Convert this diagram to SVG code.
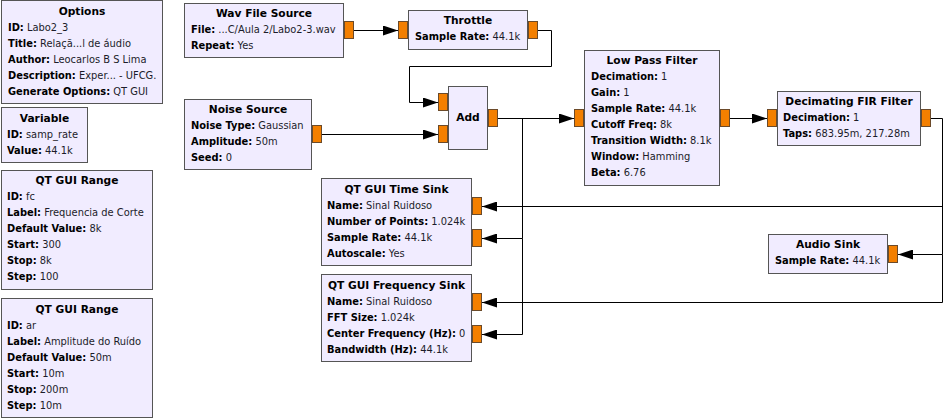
<svg xmlns="http://www.w3.org/2000/svg" width="943" height="419" viewBox="0 0 943 419">
<style>
.bg{fill:#ffffff}
.blk{fill:#F1ECFF;stroke:#555555;stroke-width:1}
.port{fill:#F37F00;stroke:#6b4a2a;stroke-width:1}
.t{font-family:"DejaVu Sans","Liberation Sans",sans-serif;font-size:10.67px;font-weight:bold;fill:#000;text-anchor:middle}
.p{font-family:"DejaVu Sans","Liberation Sans",sans-serif;font-size:9.9px;fill:#1c1c2a}
.k{font-weight:bold;fill:#000}
.c{fill:none;stroke:#000;stroke-width:1}
</style>
<defs>
<marker id="arr" markerWidth="15" markerHeight="10" refX="15" refY="5" orient="auto" markerUnits="userSpaceOnUse">
<path d="M0,0 L15,5 L0,10 z" fill="#000"/>
</marker>
</defs>
<rect class="bg" x="0" y="0" width="943" height="419"/>

<g id="connectors">
<path class="c" d="M354,30.5 H398" marker-end="url(#arr)"/>
<path class="c" d="M538,30.5 H551.5 V66.5 H409.5 V102.5 H438" marker-end="url(#arr)"/>
<path class="c" d="M322,134.5 H438" marker-end="url(#arr)"/>
<path class="c" d="M498,118.5 H574" marker-end="url(#arr)"/>
<path class="c" d="M498,118.5 H522.5 V238.5 H482" marker-end="url(#arr)"/>
<path class="c" d="M522.5,238.5 V334.5 H482" marker-end="url(#arr)"/>
<path class="c" d="M730,118.5 H767" marker-end="url(#arr)"/>
<path class="c" d="M931,118.5 H942.5 V254.5 H898" marker-end="url(#arr)"/>
<path class="c" d="M942.5,206.5 H482" marker-end="url(#arr)"/>
<path class="c" d="M942.5,254.5 V302.5 H482" marker-end="url(#arr)"/>
</g>

<g id="options">
<rect class="blk" x="1.5" y="0.5" width="161" height="103"/>
<text class="t" x="82" y="15">Options</text>
<text class="p" x="8" y="31"><tspan class="k">ID:</tspan> Labo2_3</text>
<text class="p" x="8" y="47"><tspan class="k">Title:</tspan> Relaçã...l de áudio</text>
<text class="p" x="8" y="63"><tspan class="k">Author:</tspan> Leocarlos B S Lima</text>
<text class="p" x="8" y="79"><tspan class="k">Description:</tspan> Exper... - UFCG.</text>
<text class="p" x="8" y="95"><tspan class="k">Generate Options:</tspan> QT GUI</text>
</g>

<g id="variable">
<rect class="blk" x="1.5" y="107.5" width="86" height="55"/>
<text class="t" x="44.5" y="122">Variable</text>
<text class="p" x="7" y="138"><tspan class="k">ID:</tspan> samp_rate</text>
<text class="p" x="7" y="154"><tspan class="k">Value:</tspan> 44.1k</text>
</g>

<g id="range_fc">
<rect class="blk" x="1.5" y="170.5" width="151" height="119"/>
<text class="t" x="77" y="184">QT GUI Range</text>
<text class="p" x="7" y="200"><tspan class="k">ID:</tspan> fc</text>
<text class="p" x="7" y="216"><tspan class="k">Label:</tspan> Frequencia de Corte</text>
<text class="p" x="7" y="232"><tspan class="k">Default Value:</tspan> 8k</text>
<text class="p" x="7" y="248"><tspan class="k">Start:</tspan> 300</text>
<text class="p" x="7" y="264"><tspan class="k">Stop:</tspan> 8k</text>
<text class="p" x="7" y="280"><tspan class="k">Step:</tspan> 100</text>
</g>

<g id="range_ar">
<rect class="blk" x="1.5" y="298.5" width="151" height="119"/>
<text class="t" x="77" y="313">QT GUI Range</text>
<text class="p" x="7" y="329"><tspan class="k">ID:</tspan> ar</text>
<text class="p" x="7" y="345"><tspan class="k">Label:</tspan> Amplitude do Ruído</text>
<text class="p" x="7" y="361"><tspan class="k">Default Value:</tspan> 50m</text>
<text class="p" x="7" y="377"><tspan class="k">Start:</tspan> 10m</text>
<text class="p" x="7" y="393"><tspan class="k">Stop:</tspan> 200m</text>
<text class="p" x="7" y="409"><tspan class="k">Step:</tspan> 10m</text>
</g>

<g id="wav_source">
<rect class="blk" x="184.5" y="3.5" width="159" height="54"/>
<text class="t" x="264" y="17">Wav File Source</text>
<text class="p" x="191" y="33"><tspan class="k">File:</tspan> ...C/Aula 2/Labo2-3.wav</text>
<text class="p" x="191" y="49"><tspan class="k">Repeat:</tspan> Yes</text>
<rect class="port" x="344.5" y="21.5" width="9" height="17"/>
</g>

<g id="throttle">
<rect class="blk" x="408.5" y="10.5" width="119" height="39"/>
<text class="t" x="468" y="24">Throttle</text>
<text class="p" x="415" y="40"><tspan class="k">Sample Rate:</tspan> 44.1k</text>
<rect class="port" x="398.5" y="21.5" width="9" height="17"/>
<rect class="port" x="528.5" y="21.5" width="9" height="17"/>
</g>

<g id="noise_source">
<rect class="blk" x="184.5" y="99.5" width="127" height="70"/>
<text class="t" x="248" y="113">Noise Source</text>
<text class="p" x="191" y="129"><tspan class="k">Noise Type:</tspan> Gaussian</text>
<text class="p" x="191" y="145"><tspan class="k">Amplitude:</tspan> 50m</text>
<text class="p" x="191" y="161"><tspan class="k">Seed:</tspan> 0</text>
<rect class="port" x="312.5" y="125.5" width="9" height="17"/>
</g>

<g id="add">
<rect class="blk" x="448.5" y="86.5" width="39" height="63"/>
<text class="t" x="468" y="121">Add</text>
<rect class="port" x="438.5" y="93.5" width="9" height="17"/>
<rect class="port" x="438.5" y="125.5" width="9" height="17"/>
<rect class="port" x="488.5" y="109.5" width="9" height="17"/>
</g>

<g id="low_pass_filter">
<rect class="blk" x="584.5" y="50.5" width="135" height="135"/>
<text class="t" x="652" y="64">Low Pass Filter</text>
<text class="p" x="591" y="80"><tspan class="k">Decimation:</tspan> 1</text>
<text class="p" x="591" y="96"><tspan class="k">Gain:</tspan> 1</text>
<text class="p" x="591" y="112"><tspan class="k">Sample Rate:</tspan> 44.1k</text>
<text class="p" x="591" y="128"><tspan class="k">Cutoff Freq:</tspan> 8k</text>
<text class="p" x="591" y="144"><tspan class="k">Transition Width:</tspan> 8.1k</text>
<text class="p" x="591" y="160"><tspan class="k">Window:</tspan> Hamming</text>
<text class="p" x="591" y="176"><tspan class="k">Beta:</tspan> 6.76</text>
<rect class="port" x="574.5" y="109.5" width="9" height="17"/>
<rect class="port" x="720.5" y="109.5" width="9" height="17"/>
</g>

<g id="decimating_fir">
<rect class="blk" x="777.5" y="91.5" width="143" height="54"/>
<text class="t" x="849" y="105">Decimating FIR Filter</text>
<text class="p" x="783" y="121"><tspan class="k">Decimation:</tspan> 1</text>
<text class="p" x="783" y="137"><tspan class="k">Taps:</tspan> 683.95m, 217.28m</text>
<rect class="port" x="767.5" y="109.5" width="9" height="17"/>
<rect class="port" x="921.5" y="109.5" width="9" height="17"/>
</g>

<g id="time_sink">
<rect class="blk" x="321.5" y="178.5" width="150" height="87"/>
<text class="t" x="396.5" y="193">QT GUI Time Sink</text>
<text class="p" x="327" y="209"><tspan class="k">Name:</tspan> Sinal Ruidoso</text>
<text class="p" x="327" y="225"><tspan class="k">Number of Points:</tspan> 1.024k</text>
<text class="p" x="327" y="241"><tspan class="k">Sample Rate:</tspan> 44.1k</text>
<text class="p" x="327" y="257"><tspan class="k">Autoscale:</tspan> Yes</text>
<rect class="port" x="472.5" y="197.5" width="9" height="17"/>
<rect class="port" x="472.5" y="229.5" width="9" height="17"/>
</g>

<g id="freq_sink">
<rect class="blk" x="321.5" y="274.5" width="150" height="87"/>
<text class="t" x="396.5" y="289">QT GUI Frequency Sink</text>
<text class="p" x="327" y="305"><tspan class="k">Name:</tspan> Sinal Ruidoso</text>
<text class="p" x="327" y="321"><tspan class="k">FFT Size:</tspan> 1.024k</text>
<text class="p" x="327" y="337"><tspan class="k">Center Frequency (Hz):</tspan> 0</text>
<text class="p" x="327" y="353"><tspan class="k">Bandwidth (Hz):</tspan> 44.1k</text>
<rect class="port" x="472.5" y="293.5" width="9" height="17"/>
<rect class="port" x="472.5" y="325.5" width="9" height="17"/>
</g>

<g id="audio_sink">
<rect class="blk" x="768.5" y="234.5" width="119" height="39"/>
<text class="t" x="828" y="248">Audio Sink</text>
<text class="p" x="775" y="264"><tspan class="k">Sample Rate:</tspan> 44.1k</text>
<rect class="port" x="888.5" y="245.5" width="9" height="17"/>
</g>
</svg>
